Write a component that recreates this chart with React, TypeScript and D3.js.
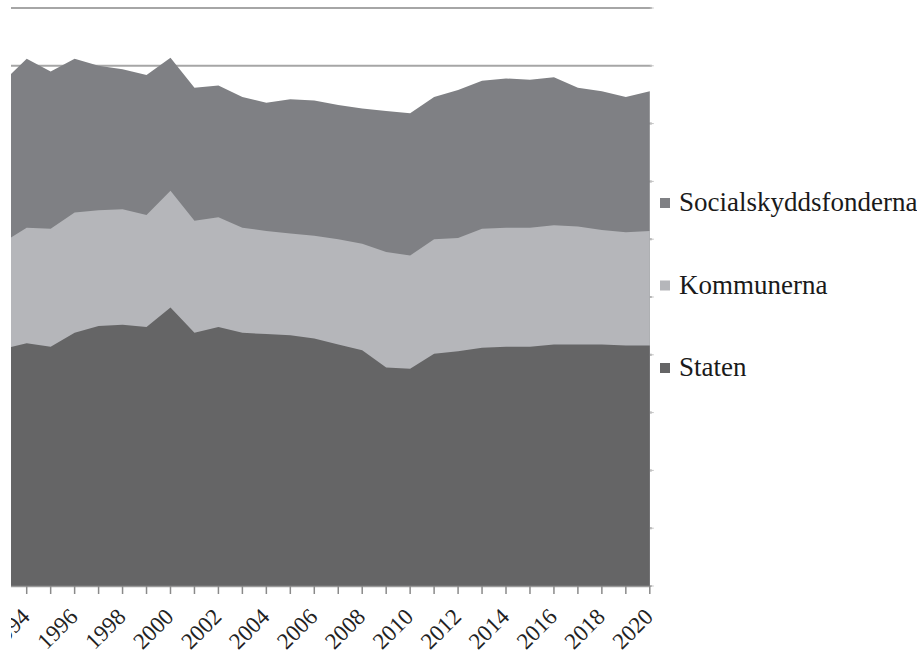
import React from "react";
import * as d3 from "d3";

const years = [1993, 1994, 1995, 1996, 1997, 1998, 1999, 2000, 2001, 2002, 2003, 2004, 2005, 2006, 2007, 2008, 2009, 2010, 2011, 2012, 2013, 2014, 2015, 2016, 2017, 2018, 2019, 2020];
const staten = [20.5, 21.0, 20.7, 21.9, 22.5, 22.6, 22.4, 24.1, 21.9, 22.4, 21.9, 21.8, 21.7, 21.4, 20.9, 20.4, 18.9, 18.8, 20.1, 20.3, 20.6, 20.7, 20.7, 20.9, 20.9, 20.9, 20.8, 20.8];
const kommunerna = [9.2, 10.0, 10.2, 10.4, 10.0, 10.0, 9.7, 10.1, 9.7, 9.5, 9.1, 8.9, 8.8, 8.9, 9.1, 9.2, 10.0, 9.8, 9.9, 9.8, 10.3, 10.3, 10.3, 10.3, 10.2, 9.9, 9.8, 9.9];
const socialskyddsfonderna = [13.9, 14.6, 13.6, 13.3, 12.5, 12.1, 12.1, 11.5, 11.5, 11.4, 11.3, 11.1, 11.6, 11.7, 11.6, 11.7, 12.2, 12.3, 12.3, 12.8, 12.8, 12.9, 12.8, 12.8, 12.0, 12.0, 11.7, 12.1];
const seriesNames = ["Staten", "Kommunerna", "Socialskyddsfonderna"];
const tickYears = [1994, 1996, 1998, 2000, 2002, 2004, 2006, 2008, 2010, 2012, 2014, 2016, 2018, 2020];
const yTicks = [0, 5, 10, 15, 20, 25, 30, 35, 40, 45, 50];

const colors: Record<string, string> = {
  Staten: "#656566",
  Kommunerna: "#b5b6ba",
  Socialskyddsfonderna: "#7f8084",
};

const W = 917;
const H = 659;
const clipLeft = 11;
const serif = "'Liberation Serif', 'DejaVu Serif', 'Times New Roman', Times, serif";

export default function App() {
  const x = d3.scaleLinear().domain([1994, 2020]).range([26.7, 649.8]);
  const y = d3.scaleLinear().domain([0, 50]).range([586, 8]);

  const rows = years.map((yr, i) => ({
    year: yr,
    Staten: staten[i],
    Kommunerna: kommunerna[i],
    Socialskyddsfonderna: socialskyddsfonderna[i],
  }));
  const stack = d3.stack<any>().keys(seriesNames);
  const layers = stack(rows);

  const area = d3
    .area<any>()
    .x((d) => x(d.data.year))
    .y0(() => y(0))
    .y1((d) => y(d[1]));

  const xTicksAll = years.filter((yr) => yr >= 1994);
  const plotRight = x(2020);

  const legendItems = ["Socialskyddsfonderna", "Kommunerna", "Staten"];
  const legendBaselines = [211, 293.5, 376];

  return (
    <svg
      width={W}
      height={H}
      style={{ position: "absolute", left: 0, top: 0, background: "#fff" }}
    >
      <defs>
        <clipPath id="crop">
          <rect x={clipLeft} y={0} width={W - clipLeft} height={H} />
        </clipPath>
      </defs>
      <rect x={0} y={0} width={W} height={H} fill="#fff" />
      <g clipPath="url(#crop)">
        {yTicks.map((t) => (
          <line
            key={"g" + t}
            x1={clipLeft}
            x2={plotRight + 2}
            y1={y(t)}
            y2={y(t)}
            stroke="#a6a6a6"
            strokeWidth={2}
          />
        ))}
        {yTicks.map((t) => (
          <line
            key={"rt" + t}
            x1={plotRight}
            x2={plotRight + 4}
            y1={y(t)}
            y2={y(t)}
            stroke="#c4c4c4"
            strokeWidth={1}
          />
        ))}
        {[...layers].reverse().map((layer) => (
          <path key={layer.key} d={area(layer) || ""} fill={colors[layer.key]} />
        ))}
        <line x1={clipLeft} x2={plotRight} y1={586.5} y2={586.5} stroke="#9a9a9a" strokeWidth={1.5} />
        {xTicksAll.map((yr) => (
          <line
            key={"xt" + yr}
            x1={x(yr)}
            x2={x(yr)}
            y1={586}
            y2={594}
            stroke="#8a8a8a"
            strokeWidth={1.5}
          />
        ))}
        {tickYears.map((yr) => (
          <text
            key={"xl" + yr}
            transform={`translate(${x(yr) + 4.5},${618}) rotate(-45)`}
            textAnchor="end"
            style={{ fontFamily: serif, fontSize: "23px" }}
            fill="#222"
          >
            {yr}
          </text>
        ))}
      </g>
      {legendItems.map((name, i) => (
        <g key={"lg" + name}>
          <rect x={660} y={legendBaselines[i] - 13} width={10} height={10} fill={colors[name]} />
          <text
            x={679}
            y={legendBaselines[i]}
            style={{ fontFamily: serif, fontSize: "27px" }}
            fill="#1a1a1a"
          >
            {name}
          </text>
        </g>
      ))}
    </svg>
  );
}
